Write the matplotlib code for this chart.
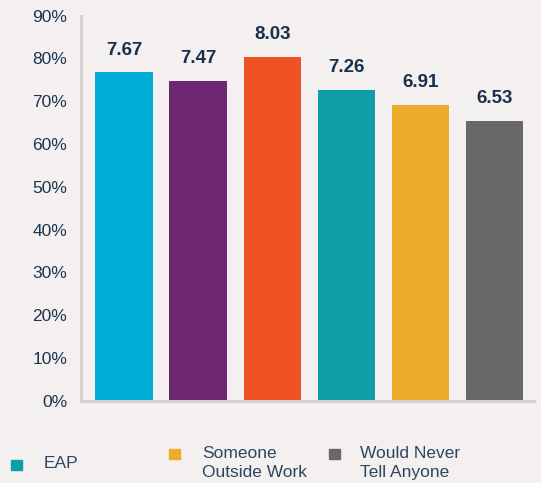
import matplotlib.pyplot as plt
from matplotlib.patches import Rectangle

plt.rcParams['font.family'] = ['Liberation Sans', 'DejaVu Sans']

scores = [7.67, 7.47, 8.03, 7.26, 6.91, 6.53]
percents = [v * 10 for v in scores]
bar_colors = ["#00acd6", "#6e2773", "#ef5225", "#0e9ea6", "#ecab2a", "#68686a"]
yticks = list(range(0, 100, 10))
legend_labels = ["EAP", "Someone\nOutside Work", "Would Never\nTell Anyone"]
legend_colors = ["#0e9ea6", "#ecab2a", "#68686a"]

bg = "#f3f0ef"
navy = "#1b3450"

fig = plt.figure(figsize=(5.41, 4.83), dpi=100)
fig.patch.set_facecolor(bg)
ax = fig.add_axes([81 / 541, 1 - 401 / 483, 453 / 541, 385.5 / 483])
ax.set_facecolor(bg)

x = list(range(len(scores)))
bars = ax.bar(x, percents, width=0.775, color=bar_colors, zorder=2)
for b, v in zip(bars, scores):
    ax.annotate(f"{v:.2f}", (b.get_x() + b.get_width() / 2, b.get_height()),
                xytext=(0, 10), textcoords="offset points", ha="center", va="bottom",
                fontsize=13.5, fontweight="bold", color="#17304d")

ax.set_xlim(-0.58, 5.53)
ax.set_ylim(0, 90)
ax.set_yticks(yticks)
ax.set_yticklabels([f"{t}%" for t in yticks], fontsize=12.5, color=navy)
ax.set_xticks([])
ax.tick_params(axis="y", length=0, pad=10)
for s in ["top", "right"]:
    ax.spines[s].set_visible(False)
for s in ["left", "bottom"]:
    ax.spines[s].set_color("#d3d0cf")
    ax.spines[s].set_linewidth(2.2)

# legend (manual layout)
leg_pos = [(11, 465, 44, 464), (169, 454, 202, 463), (329, 454, 360, 463)]
for (sx, sy, tx, ty), lab, c in zip(leg_pos, legend_labels, legend_colors):
    fig.patches.append(Rectangle((sx / 541, 1 - (sy + 5) / 483), 10.5 / 541, 10.5 / 483,
                                 transform=fig.transFigure, color=c, figure=fig))
    fig.text(tx / 541, 1 - ty / 483, lab, ha="left", va="center", fontsize=12.5,
             color="#2e4660", linespacing=1.3)

fig.savefig("out.png", dpi=100, facecolor=bg)
